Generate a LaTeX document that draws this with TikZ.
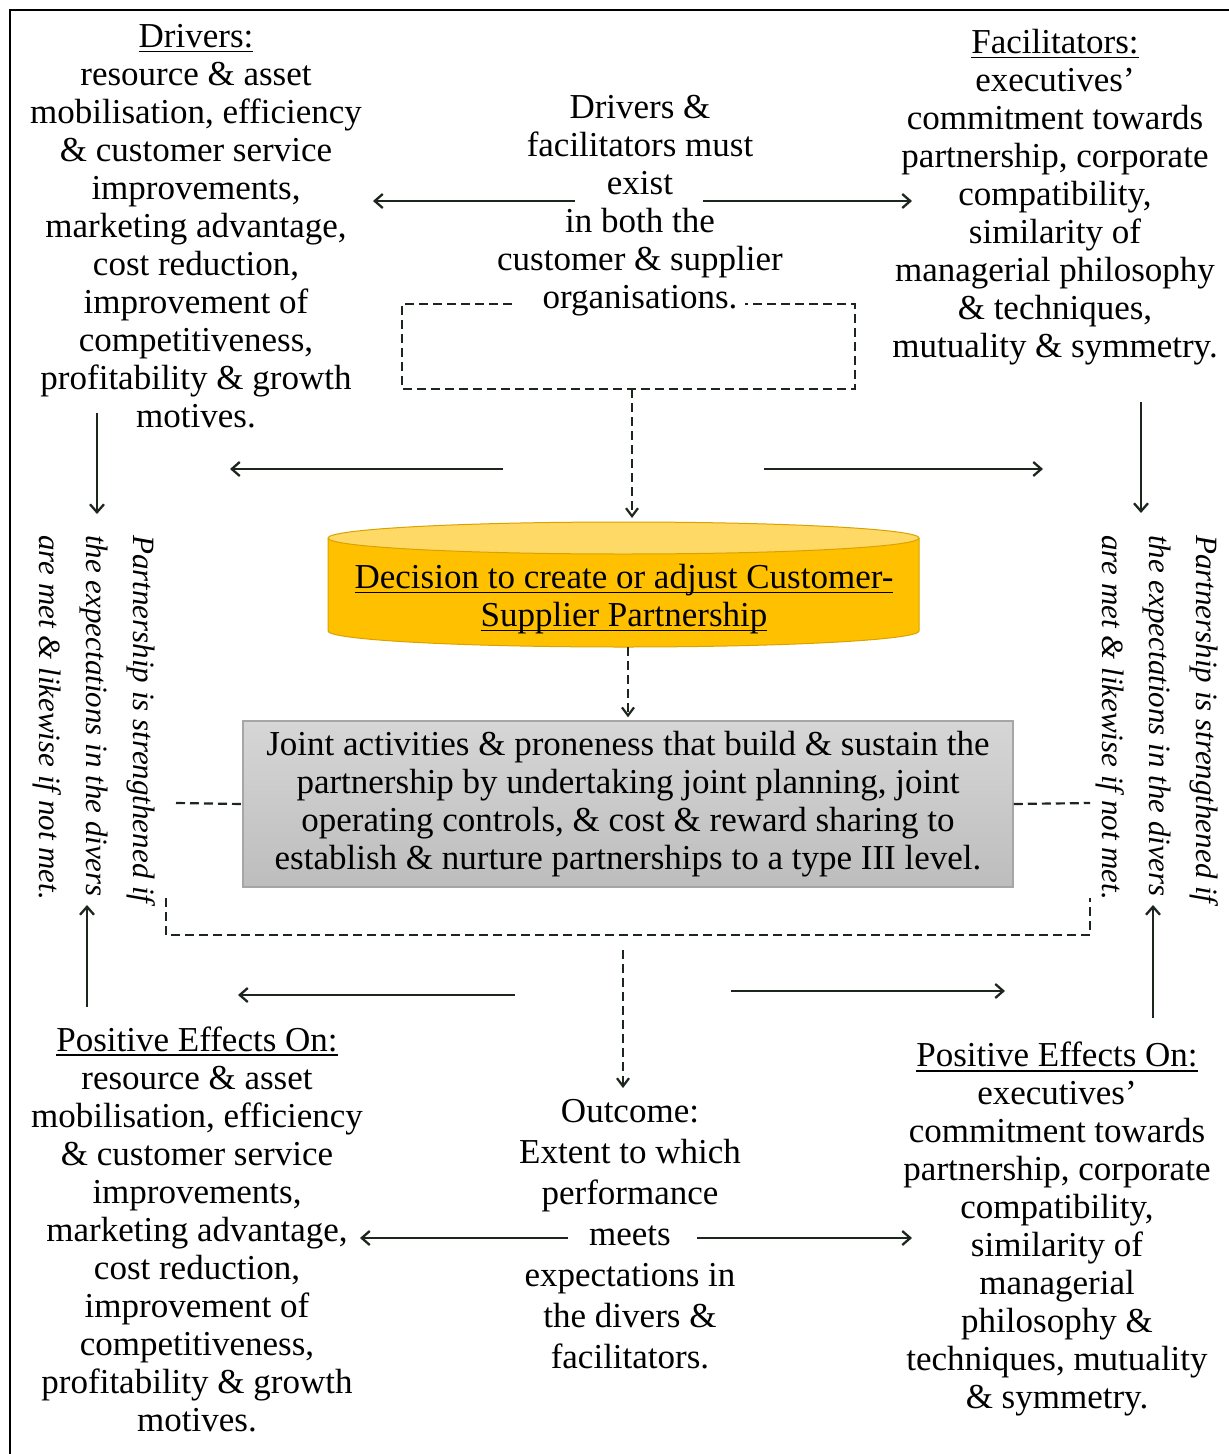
\documentclass[tikz,border=0pt]{standalone}
\usepackage{fontspec}
\setmainfont{Liberation Serif}
\usetikzlibrary{arrows.meta}
\definecolor{arr}{HTML}{1C261C}
\definecolor{cylbody}{HTML}{FFC000}
\definecolor{cyltop}{HTML}{FFD966}
\definecolor{cylline}{HTML}{D9A200}
\definecolor{boxline}{HTML}{A6A6A6}
\definecolor{boxtop}{HTML}{D6D6D6}
\definecolor{boxbot}{HTML}{BDBDBD}
\newcommand{\myul}[1]{\setbox0\hbox{#1}\rlap{\rule[-5pt]{\wd0}{1.6pt}}\box0}
\begin{document}
\begin{tikzpicture}[x=1pt,y=-1pt,
 txt/.style={align=center, inner sep=0pt, font=\fontsize{35}{38}\selectfont},
 vtxt/.style={align=left, inner sep=0pt, font=\fontsize{31}{47}\selectfont\itshape, rotate=-90, anchor=north west},
 arrowline/.style={draw=arr, line width=2.3pt, -{Straight Barb[length=8pt,width=14pt,line width=2.3pt]}},
 dashline/.style={draw=arr, line width=2.2pt, dash pattern=on 9pt off 5pt},
 dasharrow/.style={dashline, -{Straight Barb[length=8pt,width=12pt,line width=2.2pt]}},
 graybox/.style={draw=boxline, line width=1.5pt, top color=boxtop, bottom color=boxbot, inner sep=0pt, align=center, font=\fontsize{35}{38}\selectfont},
 ]
\useasboundingbox (0,0) rectangle (1229,1454);
% page frame
\draw[line width=2pt] (10,1454) -- (10,10) -- (1229,10);

% top text blocks
\node[txt] (drivers) at (196,226) {\myul{Drivers:}\\ resource \& asset\\ mobilisation, efficiency\\ \& customer service\\ improvements,\\ marketing advantage,\\ cost reduction,\\ improvement of\\ competitiveness,\\ profitability \& growth\\ motives.};
\node[txt] (must) at (640,206) {Drivers \&\\ facilitators must\\ exist\\ in both the\\ customer \& supplier\\ organisations.};
\node[txt] (facil) at (1055,197) {\myul{Facilitators:}\\ executives’\\ commitment towards\\ partnership, corporate\\ compatibility,\\ similarity of\\ managerial philosophy\\ \& techniques,\\ mutuality \& symmetry.};

% cylinder
\node[inner sep=0pt, minimum width=591, minimum height=125] (cyl) at (623.5,584.5) {};
\fill[cylbody] (328,538) -- (328,631) arc[start angle=180, end angle=0, x radius=295.5, y radius=16] -- (919,538) -- cycle;
\draw[cylline, line width=1pt] (328,538) -- (328,631) arc[start angle=180, end angle=0, x radius=295.5, y radius=16] -- (919,538);
\draw[cylline, line width=1pt, fill=cyltop] (623.5,538) ellipse[x radius=295.5, y radius=16];
\node[txt] (cyltxt) at (624,599) {\myul{Decision to create or adjust Customer-}\\ \myul{Supplier Partnership}};

% gray box
\node[graybox, minimum width=770, minimum height=166] (jbox) at (628,804) {Joint activities \& proneness that build \& sustain the\\ partnership by undertaking joint planning, joint\\ operating controls, \& cost \& reward sharing to\\ establish \& nurture partnerships to a type III level.};

% vertical italic texts
\node[vtxt] (vleft) at (156,535) {Partnership is strengthened if\\ the expectations in the divers\\ are met \& likewise if not met.};
\node[vtxt] (vright) at (1219,535) {Partnership is strengthened if\\ the expectations in the divers\\ are met \& likewise if not met.};

% bottom text blocks
\node[txt] (effl) at (197,1229) {\myul{Positive Effects On:}\\ resource \& asset\\ mobilisation, efficiency\\ \& customer service\\ improvements,\\ marketing advantage,\\ cost reduction,\\ improvement of\\ competitiveness,\\ profitability \& growth\\ motives.};
\node[txt, font=\fontsize{35}{41}\selectfont] (outc) at (630,1234) {Outcome:\\ Extent to which\\ performance\\ meets\\ expectations in\\ the divers \&\\ facilitators.};
\node[txt] (effr) at (1057,1229) {\myul{Positive Effects On:}\\ executives’\\ commitment towards\\ partnership, corporate\\ compatibility,\\ similarity of\\ managerial\\ philosophy \&\\ techniques, mutuality\\ \& symmetry.};

% coordinates for free arrow ends
\coordinate (a1s) at (575,201); \coordinate (a1e) at (373,201);
\coordinate (a2s) at (703,201); \coordinate (a2e) at (912,201);
\coordinate (a3s) at (503,469); \coordinate (a3e) at (230,469);
\coordinate (a4s) at (764,469); \coordinate (a4e) at (1043,469);
\coordinate (a5s) at (97,413);  \coordinate (a5e) at (97,514);
\coordinate (a6s) at (1141,402); \coordinate (a6e) at (1141,513);
\coordinate (a7s) at (87,1007); \coordinate (a7e) at (87,905);
\coordinate (a8s) at (1153,1018); \coordinate (a8e) at (1153,905);
\coordinate (a9s) at (515,995); \coordinate (a9e) at (238,995);
\coordinate (a10s) at (731,991); \coordinate (a10e) at (1005,991);
\coordinate (a11s) at (568,1238); \coordinate (a11e) at (360,1238);
\coordinate (a12s) at (697,1238); \coordinate (a12e) at (912,1238);

\foreach \i in {1,...,12} \draw[arrowline] (a\i s) -- (a\i e);

% dashed structures
\coordinate (d1) at (512,304); \coordinate (d2) at (402,304);
\coordinate (d3) at (402,389); \coordinate (d4) at (855,389);
\coordinate (d5) at (855,304); \coordinate (d6) at (745,304);
\draw[dashline] (d1) -- (d2) -- (d3) -- (d4) -- (d5) -- (d6);
\coordinate (dbot) at (632,389); \coordinate (cyltop) at (632,518);
\draw[dasharrow] (dbot) -- (cyltop);
\draw[dasharrow, shorten >=3pt] (jbox.north |- cyl.south) -- (jbox.north);
\coordinate (sl) at (176,803); \coordinate (sr) at (1090,803);
\draw[dashline] (sl) -- (jbox.west);
\draw[dashline] (jbox.east) -- (sr);
\coordinate (b1) at (166,898); \coordinate (b2) at (166,935);
\coordinate (b3) at (1090,935); \coordinate (b4) at (1090,898);
\draw[dashline] (b1) -- (b2) -- (b3) -- (b4);
\coordinate (o1) at (623,950); \coordinate (o2) at (623,1088);
\draw[dasharrow] (o1) -- (o2);
\end{tikzpicture}
\end{document}
